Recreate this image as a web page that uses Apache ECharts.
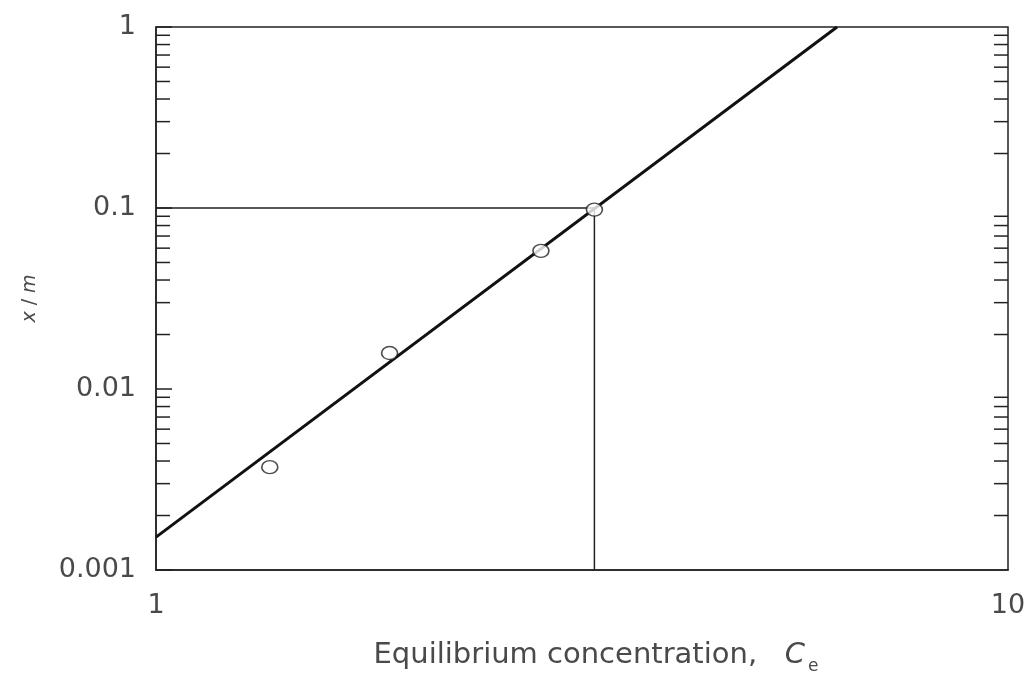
<!DOCTYPE html>
<html>
<head>
<meta charset="utf-8">
<script src="https://cdn.jsdelivr.net/npm/echarts@6/dist/echarts.min.js"></script>
<style>
  html, body { margin: 0; padding: 0; background: #fff; }
  #box { width: 1027px; height: 673px; }
</style>
</head>
<body>
<div id="box"></div>
<script>
// measured points (Ce, x/m)
const pointsX = [1.36, 1.88, 2.83, 3.27];
const pointsY = [0.0037, 0.0158, 0.058, 0.098];
// fitted line ends
const fitX = [1, 6.3];
const fitY = [0.00152, 1];
// reading guide at x/m = 0.1
const guideX = [1, 3.27, 3.27];
const guideY = [0.1, 0.1, 0.001];
// minor tick values on the y axis
const minorTicks = [];
[0.001, 0.01, 0.1].forEach(d => {
  for (let k = 2; k <= 9; k++) minorTicks.push(+(d * k).toPrecision(2));
});

const ink = '#222';
const textCol = '#4a4a4a';
const font = 'DejaVu Sans';

let myecharts = echarts.init(document.getElementById('box'));
let option = {
  animation: false,
  grid: {
    left: 156, right: 19, top: 27, bottom: 103,
    outerBoundsMode: 'none',
    show: true, borderColor: ink, borderWidth: 1.5, backgroundColor: 'transparent'
  },
  xAxis: {
    type: 'log', logBase: 10, min: 1, max: 10,
    axisLine: { show: true, lineStyle: { color: ink, width: 1.5 } },
    axisTick: { show: false },
    splitLine: { show: false },
    axisLabel: { color: textCol, fontSize: 27, fontFamily: font, margin: 22 },
    name: '{t|Equilibrium concentration,   }{i|C}{s|e}',
    nameLocation: 'middle',
    nameGap: 66,
    nameTextStyle: {
      padding: [0, 0, 0, 28],
      rich: {
        t: { fontSize: 29, color: textCol, fontFamily: font },
        i: { fontSize: 29, color: textCol, fontFamily: font, fontStyle: 'italic' },
        s: { fontSize: 17, color: textCol, fontFamily: font, verticalAlign: 'bottom', padding: [22, 0, 0, 3] }
      }
    }
  },
  yAxis: {
    type: 'log', logBase: 10, min: 0.001, max: 1,
    axisLine: { show: true, lineStyle: { color: ink, width: 1.5 } },
    axisTick: { show: true, inside: true, length: 16, lineStyle: { color: ink, width: 1.5 } },
    splitLine: { show: false },
    axisLabel: {
      color: textCol, fontSize: 27, fontFamily: font, margin: 20,
      formatter: v => String(+v.toPrecision(1))
    },
    name: '{i|x} / {i|m}',
    nameLocation: 'middle',
    nameGap: 116,
    nameTextStyle: {
      fontSize: 19, color: textCol, fontFamily: font,
      rich: { i: { fontSize: 19, color: textCol, fontFamily: font, fontStyle: 'italic' } }
    }
  },
  series: [
    {
      // inward minor ticks on both vertical borders
      type: 'custom',
      silent: true,
      data: minorTicks.map(v => [1, v]),
      renderItem: function (params, api) {
        const p = api.coord([1, api.value(1)]);
        const cs = params.coordSys;
        const len = 14;
        const style = { stroke: ink, lineWidth: 1.5 };
        return {
          type: 'group',
          children: [
            { type: 'line', shape: { x1: cs.x, y1: p[1], x2: cs.x + len, y2: p[1] }, style: style },
            { type: 'line', shape: { x1: cs.x + cs.width, y1: p[1], x2: cs.x + cs.width - len, y2: p[1] }, style: style }
          ]
        };
      }
    },
    {
      type: 'line',
      data: guideX.map((x, i) => [x, guideY[i]]),
      symbol: 'none',
      lineStyle: { color: ink, width: 1.5 },
      z: 2
    },
    {
      type: 'line',
      data: fitX.map((x, i) => [x, fitY[i]]),
      symbol: 'none',
      lineStyle: { color: '#111', width: 3 },
      z: 3
    },
    {
      type: 'scatter',
      data: pointsX.map((x, i) => [x, pointsY[i]]),
      symbol: 'circle',
      symbolSize: [16, 13],
      itemStyle: { color: '#fff', borderColor: ink, borderWidth: 1.5 },
      z: 4
    }
  ]
};
myecharts.setOption(option);
</script>
</body>
</html>
